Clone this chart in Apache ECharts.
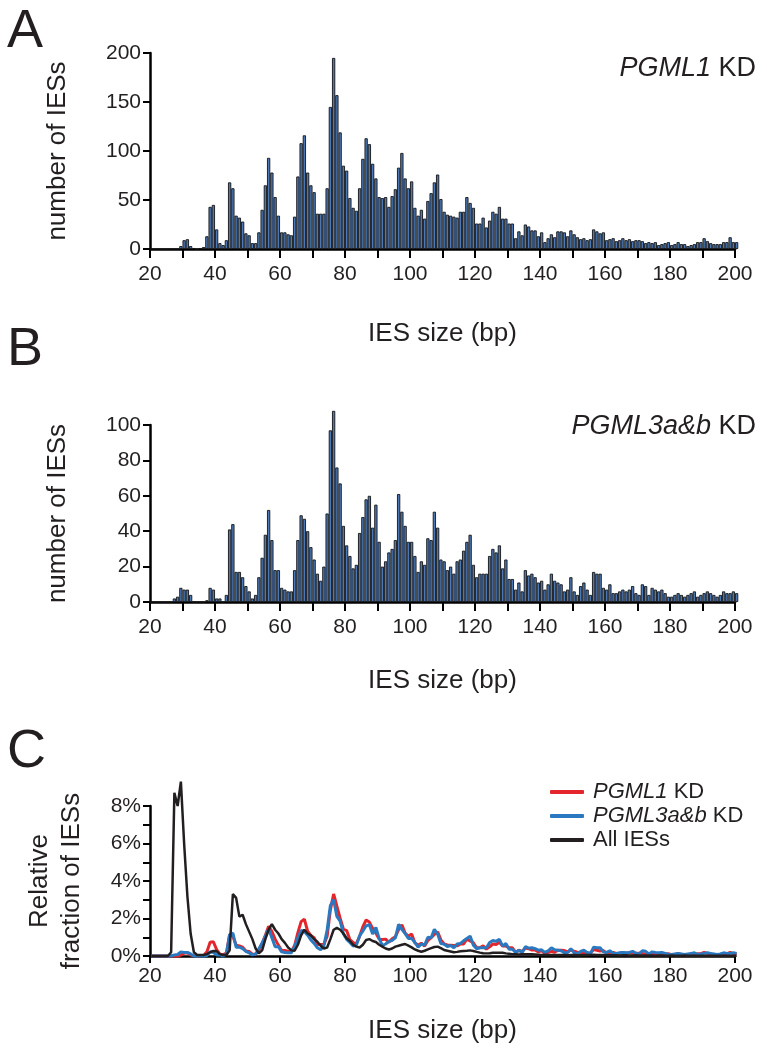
<!DOCTYPE html>
<html><head><meta charset="utf-8">
<script src="https://cdn.jsdelivr.net/npm/echarts@6/dist/echarts.min.js"></script>
<style>html,body{margin:0;padding:0;background:#fff}#c{width:767px;height:1052px}</style>
</head><body><div id="c"></div>
<script>
// IES size bins (bp), bin n covers [n, n+1)
const sizes = [20,21,22,23,24,25,26,27,28,29,30,31,32,33,34,35,36,37,38,39,
40,41,42,43,44,45,46,47,48,49,50,51,52,53,54,55,56,57,58,59,
60,61,62,63,64,65,66,67,68,69,70,71,72,73,74,75,76,77,78,79,
80,81,82,83,84,85,86,87,88,89,90,91,92,93,94,95,96,97,98,99,
100,101,102,103,104,105,106,107,108,109,110,111,112,113,114,115,116,117,118,119,
120,121,122,123,124,125,126,127,128,129,130,131,132,133,134,135,136,137,138,139,
140,141,142,143,144,145,146,147,148,149,150,151,152,153,154,155,156,157,158,159,
160,161,162,163,164,165,166,167,168,169,170,171,172,173,174,175,176,177,178,179,
180,181,182,183,184,185,186,187,188,189,190,191,192,193,194,195,196,197,198,199,200];

// Panel A: PGML1 KD counts
const countsPGML1 = [0,0,0,0,0,0,0,0,0,3,9,10,3,1,0,1,2,13,43,45,
20,6,4,9,68,62,34,32,28,16,14,6,6,17,40,65,93,78,53,34,
17,17,15,14,33,74,108,116,78,65,58,36,36,36,62,145,195,157,119,85,
80,52,42,39,62,92,113,107,87,72,53,52,53,43,54,61,83,98,72,62,
69,42,34,40,31,49,57,68,76,51,38,35,34,33,32,38,38,53,47,42,
26,26,32,22,29,38,36,43,31,31,26,26,11,18,14,25,23,19,19,13,
17,7,11,15,12,18,18,17,13,19,15,12,10,11,9,10,20,18,16,17,
9,10,11,8,9,11,9,10,8,9,9,8,6,7,6,7,4,5,6,7,
4,5,7,5,5,3,4,5,7,7,11,8,6,5,5,5,7,7,12,7,7];

// Panel B: PGML3a&b KD counts
const countsPGML3 = [0,0,0,0,0,0,0,2,3,8,7,7,4,0,0,0,0,1,8,7,
2,2,0,4,41,44,17,17,14,9,6,2,4,14,25,38,52,35,18,18,
8,7,6,6,18,35,49,47,40,31,24,16,12,20,50,97,108,76,67,43,
32,26,19,21,39,48,58,60,42,55,34,20,23,28,30,35,61,51,43,34,
34,26,17,23,21,36,35,51,42,24,23,18,20,16,23,24,29,34,38,21,
14,16,16,16,26,30,28,32,19,24,13,13,7,11,6,18,15,16,14,11,
12,7,10,16,12,11,10,6,7,14,6,4,9,11,7,4,17,16,16,8,
7,10,5,5,6,7,6,7,9,5,4,10,9,4,8,7,6,7,5,3,
3,4,5,4,3,4,5,6,3,4,5,6,5,4,3,4,6,5,5,6,5];

// Panel C: relative fraction (%)
const fracPGML1 = [0,0,0,0,0,0,0,0,0,0.05,0.15,0.17,0.05,0.02,0,0.02,0.03,0.22,0.73,0.76,
0.34,0.10,0.07,0.15,1.15,1.05,0.58,0.54,0.47,0.27,0.24,0.10,0.10,0.29,0.68,1.10,1.58,1.32,0.90,0.58,
0.29,0.29,0.25,0.24,0.56,1.25,1.83,1.97,1.32,1.10,0.98,0.61,0.61,0.61,1.05,2.46,3.31,2.66,2.02,1.44,
1.36,0.88,0.71,0.66,1.05,1.56,1.92,1.81,1.47,1.22,0.90,0.88,0.90,0.73,0.92,1.03,1.41,1.66,1.22,1.05,
1.17,0.71,0.58,0.68,0.53,0.83,0.97,1.15,1.29,0.86,0.64,0.59,0.58,0.56,0.54,0.64,0.64,0.90,0.80,0.71,
0.44,0.44,0.54,0.37,0.49,0.64,0.61,0.73,0.53,0.53,0.44,0.44,0.19,0.31,0.24,0.42,0.39,0.32,0.32,0.22,
0.29,0.12,0.19,0.25,0.20,0.31,0.31,0.29,0.22,0.32,0.25,0.20,0.17,0.19,0.15,0.17,0.34,0.31,0.27,0.29,
0.15,0.17,0.19,0.14,0.15,0.19,0.15,0.17,0.14,0.15,0.15,0.14,0.10,0.12,0.10,0.12,0.07,0.08,0.10,0.12,
0.07,0.08,0.12,0.08,0.08,0.05,0.07,0.08,0.12,0.12,0.19,0.14,0.10,0.08,0.08,0.08,0.12,0.12,0.20,0.12,0.12];

const fracPGML3 = [0,0,0,0,0,0,0,0.06,0.08,0.22,0.19,0.19,0.11,0,0,0,0,0.03,0.22,0.19,
0.06,0.06,0,0.11,1.14,1.22,0.47,0.47,0.39,0.25,0.17,0.06,0.11,0.39,0.69,1.06,1.44,0.97,0.50,0.50,
0.22,0.19,0.17,0.17,0.50,0.97,1.36,1.31,1.11,0.86,0.67,0.44,0.33,0.56,1.39,2.69,3.00,2.11,1.86,1.19,
0.89,0.72,0.53,0.58,1.08,1.33,1.61,1.67,1.17,1.53,0.94,0.56,0.64,0.78,0.83,0.97,1.69,1.42,1.19,0.94,
0.94,0.72,0.47,0.64,0.58,1.00,0.97,1.42,1.17,0.67,0.64,0.50,0.56,0.44,0.64,0.67,0.81,0.94,1.06,0.58,
0.39,0.44,0.44,0.44,0.72,0.83,0.78,0.89,0.53,0.67,0.36,0.36,0.19,0.31,0.17,0.50,0.42,0.44,0.39,0.31,
0.33,0.19,0.28,0.44,0.33,0.31,0.28,0.17,0.19,0.39,0.17,0.11,0.25,0.31,0.19,0.11,0.47,0.44,0.44,0.22,
0.19,0.28,0.14,0.14,0.17,0.19,0.17,0.19,0.25,0.14,0.11,0.28,0.25,0.11,0.22,0.19,0.17,0.19,0.14,0.08,
0.08,0.11,0.14,0.11,0.08,0.11,0.14,0.17,0.08,0.11,0.14,0.17,0.14,0.11,0.08,0.11,0.17,0.14,0.14,0.17,0.14];

const fracAll = [0,0,0,0,0,0,0.2,8.7,8.0,9.3,6.0,3.2,1.2,0.2,0.05,0.05,0.05,0.1,0.2,0.27,
0.25,0.1,0.05,0.05,0.3,3.3,3.1,2.1,2.2,1.7,1.3,0.9,0.4,0.15,0.3,0.9,1.4,1.7,1.4,1.2,
0.9,0.7,0.45,0.3,0.28,0.6,1.1,1.4,1.2,1.1,0.9,0.76,0.55,0.4,0.45,0.9,1.4,1.5,1.4,1.2,
0.95,0.8,0.6,0.5,0.45,0.6,0.85,0.9,0.8,0.75,0.6,0.5,0.4,0.35,0.4,0.5,0.55,0.6,0.64,0.55,
0.46,0.35,0.28,0.23,0.28,0.35,0.42,0.48,0.5,0.42,0.32,0.28,0.24,0.2,0.22,0.25,0.27,0.28,0.3,0.27,
0.22,0.18,0.15,0.14,0.15,0.17,0.18,0.18,0.17,0.14,0.12,0.1,0.09,0.08,0.09,0.1,0.1,0.09,0.08,0.07,
0.06,0.06,0.05,0.05,0.06,0.06,0.05,0.05,0.04,0.05,0.05,0.04,0.04,0.05,0.05,0.06,0.07,0.06,0.05,0.05,
0.04,0.04,0.04,0.04,0.03,0.04,0.04,0.03,0.03,0.04,0.03,0.03,0.03,0.03,0.03,0.02,0.03,0.03,0.02,0.02,
0.03,0.02,0.02,0.02,0.03,0.02,0.02,0.02,0.02,0.02,0.02,0.02,0.02,0.02,0.02,0.02,0.02,0.02,0.02,0.02,0.02];

const FONT = '"Liberation Sans", Arial, Helvetica, sans-serif';
const TXT = '#231f20';
const X0 = 20, X1 = 200;
const GL = 150, GW = 585;
const BW = GW / (X1 - X0);

const pairs = (vals) => sizes.map((s, i) => [s + 0.5, vals[i]]);

function xAxis(gi, tickInt, tickLen, labelMargin, nameGap) {
  return {
    gridIndex: gi, type: 'value', min: X0, max: X1, interval: tickInt,
    axisLine: { show: true, onZero: false, lineStyle: { color: '#000', width: 2.5 } },
    axisTick: { show: true, length: tickLen, lineStyle: { color: '#000', width: 2 } },
    axisLabel: { fontSize: 21, color: TXT, fontFamily: FONT, margin: labelMargin, showMinLabel: true, showMaxLabel: true,
      formatter: v => (v % 20 === 0 ? String(v) : '') },
    splitLine: { show: false },
    name: 'IES size (bp)', nameLocation: 'middle', nameGap: nameGap,
    nameTextStyle: { fontSize: 26, color: TXT, fontFamily: FONT }
  };
}
function yAxis(gi, max, interval, fmt, name, nameGap) {
  return {
    gridIndex: gi, type: 'value', min: 0, max: max, interval: interval,
    axisLine: { show: true, lineStyle: { color: '#000', width: 2.5 } },
    axisTick: { show: true, length: 7, lineStyle: { color: '#000', width: 2 } },
    axisLabel: { fontSize: 21, color: TXT, fontFamily: FONT, margin: 9, formatter: fmt },
    splitLine: { show: false },
    name: name, nameLocation: 'middle', nameRotate: 90, nameGap: nameGap,
    nameTextStyle: { fontSize: 26, color: TXT, fontFamily: FONT, lineHeight: 32 }
  };
}

const chart = echarts.init(document.getElementById('c'), null, { renderer: 'canvas' });
const barStyle = { color: '#4c79b6', borderColor: '#141414', borderWidth: 0.9 };
const italic = { fontStyle: 'italic', fontSize: 27, color: TXT, fontFamily: FONT };
const legItalic = { fontStyle: 'italic', fontSize: 22, color: TXT, fontFamily: FONT };

chart.setOption({
  animation: false,
  backgroundColor: '#fff',
  textStyle: { fontFamily: FONT },
  title: [
    { text: 'A', left: 2, top: 0, textStyle: { fontSize: 54, fontWeight: 'normal', color: TXT, fontFamily: FONT } },
    { text: 'B', left: 2, top: 318, textStyle: { fontSize: 54, fontWeight: 'normal', color: TXT, fontFamily: FONT } },
    { text: 'C', left: 2, top: 720, textStyle: { fontSize: 54, fontWeight: 'normal', color: TXT, fontFamily: FONT } },
    { text: '{i|PGML1} KD', right: 6, top: 50, textStyle: { fontSize: 27, fontWeight: 'normal', color: TXT, fontFamily: FONT, rich: { i: italic } } },
    { text: '{i|PGML3a&b} KD', right: 6, top: 408, textStyle: { fontSize: 27, fontWeight: 'normal', color: TXT, fontFamily: FONT, rich: { i: italic } } }
  ],
  legend: {
    data: ['PGML1 KD', 'PGML3a&b KD', 'All IESs'],
    orient: 'vertical', left: 545, top: 776, itemGap: 2,
    icon: 'roundRect', itemWidth: 34, itemHeight: 4,
    textStyle: { fontSize: 22, color: TXT, fontFamily: FONT, padding: [0, 0, 0, 4],
      rich: { i: legItalic, n: { fontSize: 22, color: TXT, fontFamily: FONT } } },
    formatter: (n) => n === 'All IESs' ? '{n|All IESs}' : ('{i|' + n.replace(' KD', '') + '}{n| KD}')
  },
  grid: [
    { left: GL, width: GW, top: 53, height: 196 },
    { left: GL, width: GW, top: 425, height: 177 },
    { left: GL, width: GW, top: 806, height: 150 }
  ],
  xAxis: [
    xAxis(0, 10, 9, 15, 72),
    xAxis(1, 10, 9, 15, 66),
    xAxis(2, 20, 7, 10, 62)
  ],
  yAxis: [
    yAxis(0, 200, 50, v => String(v), 'number of IESs', 76),
    yAxis(1, 100, 20, v => String(v), 'number of IESs', 76),
    yAxis(2, 8, 1, v => (v % 2 === 0 ? v + '%' : ''), 'Relative\nfraction of IESs', 62)
  ],
  series: [
    { name: 'countsA', type: 'bar', xAxisIndex: 0, yAxisIndex: 0, data: pairs(countsPGML1), barWidth: BW, itemStyle: barStyle, clip: false, legendHoverLink: false },
    { name: 'countsB', type: 'bar', xAxisIndex: 1, yAxisIndex: 1, data: pairs(countsPGML3), barWidth: BW, itemStyle: barStyle, clip: false, legendHoverLink: false },
    { name: 'PGML1 KD', type: 'line', xAxisIndex: 2, yAxisIndex: 2, data: pairs(fracPGML1), symbol: 'none', color: '#e4262c', lineStyle: { width: 3, color: '#e4262c' }, clip: false },
    { name: 'PGML3a&b KD', type: 'line', xAxisIndex: 2, yAxisIndex: 2, data: pairs(fracPGML3), symbol: 'none', color: '#2a79c0', lineStyle: { width: 3, color: '#2a79c0' }, clip: false },
    { name: 'All IESs', type: 'line', xAxisIndex: 2, yAxisIndex: 2, data: pairs(fracAll), symbol: 'none', color: '#231f20', lineStyle: { width: 2.5, color: '#231f20' }, clip: false }
  ]
});
</script></body></html>
